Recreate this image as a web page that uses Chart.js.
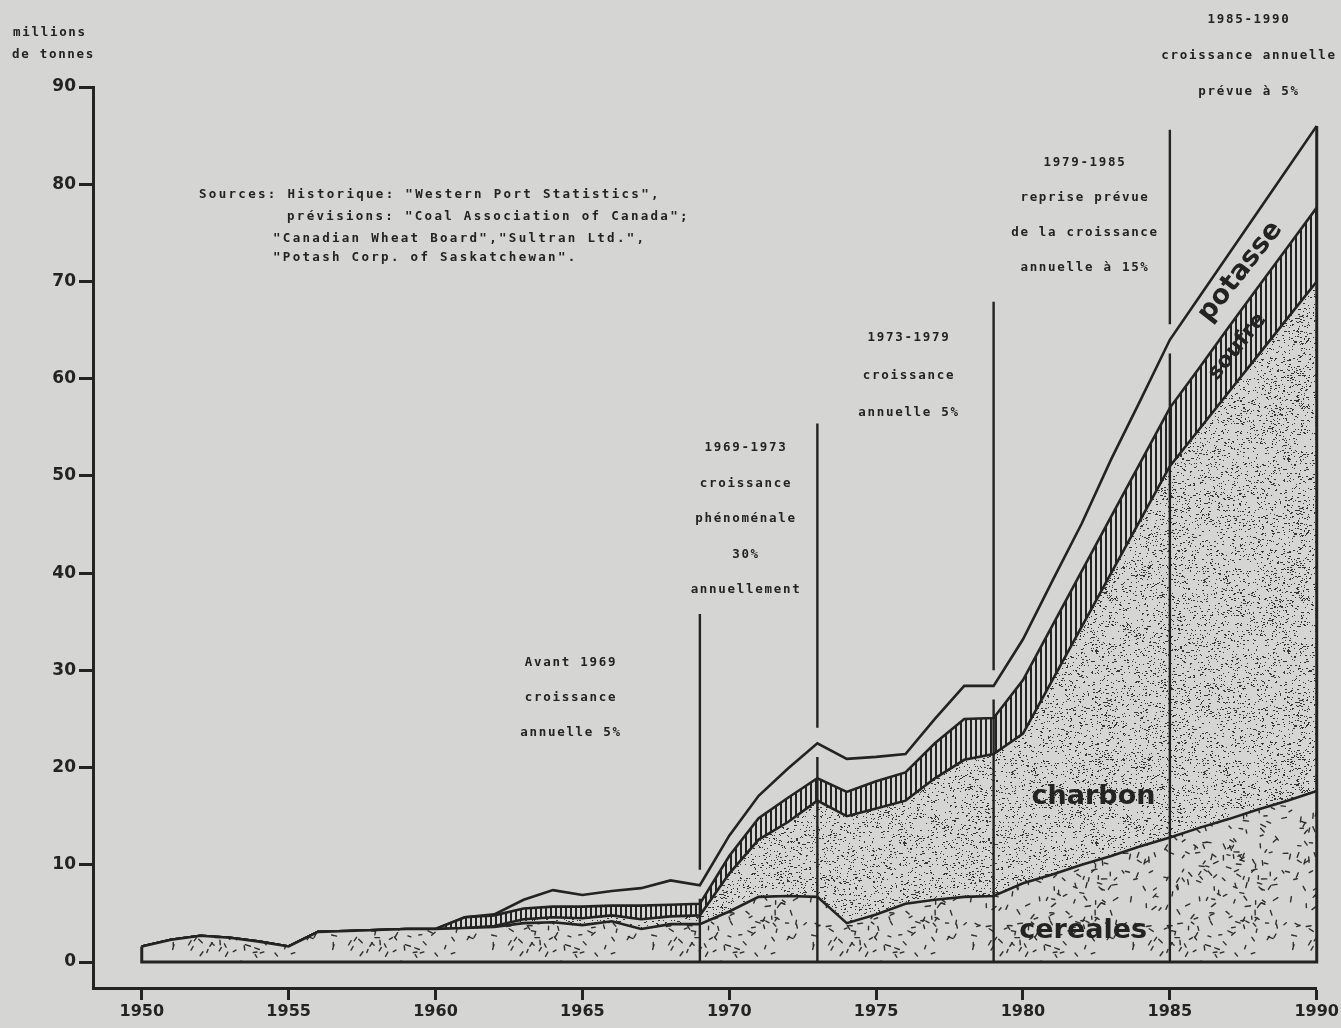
<!DOCTYPE html>
<html>
<head>
<meta charset="utf-8">
<script src="https://cdn.jsdelivr.net/npm/chart.js@4.4.1/dist/chart.umd.min.js"></script>
<style>
  html, body { margin: 0; padding: 0; background: #d5d5d3; }
</style>
</head>
<body>
<canvas id="trafic" width="1341" height="1028"></canvas>
<script>
// trafic du port, millions de tonnes
const years = [1950, 1951, 1952, 1953, 1954, 1955, 1956, 1957, 1958, 1959,
               1960, 1961, 1962, 1963, 1964, 1965, 1966, 1967, 1968, 1969,
               1970, 1971, 1972, 1973, 1974, 1975, 1976, 1977, 1978, 1979,
               1980, 1981, 1982, 1983, 1984, 1985, 1986, 1987, 1988, 1989, 1990];

const cereales = [1.6, 2.3, 2.7, 2.5, 2.1, 1.6, 3.1, 3.2, 3.3, 3.4,
                  3.4, 3.5, 3.6, 4.0, 4.1, 3.8, 4.2, 3.4, 3.9, 3.9,
                  5.2, 6.7, 6.8, 6.7, 4.0, 4.9, 6.0, 6.4, 6.7, 6.8,
                  8.1, 9.0, 10.0, 10.9, 11.9, 12.8, 13.8, 14.7, 15.7, 16.6, 17.6];

const charbon = [0, 0, 0, 0, 0, 0, 0, 0, 0, 0,
                 0, 0, 0.1, 0.4, 0.5, 0.7, 0.6, 1.0, 0.8, 0.9,
                 3.9, 5.9, 7.6, 9.9, 11.0, 10.9, 10.6, 12.5, 14.1, 14.6,
                 15.4, 20.0, 24.5, 29.1, 33.6, 38.2, 41.0, 43.9, 46.7, 49.6, 52.4];

const soufre = [0, 0, 0, 0, 0, 0, 0, 0, 0, 0,
                0, 1.1, 1.1, 1.1, 1.1, 1.2, 1.0, 1.4, 1.2, 1.2,
                1.8, 2.2, 2.5, 2.3, 2.5, 2.8, 2.9, 3.6, 4.2, 3.7,
                5.5, 5.6, 5.7, 5.8, 5.9, 6.0, 6.3, 6.7, 7.0, 7.3, 7.6];

const potasse = [0, 0, 0, 0, 0, 0, 0, 0, 0, 0,
                 0, 0, 0.1, 0.9, 1.7, 1.2, 1.5, 1.8, 2.5, 1.9,
                 2.1, 2.3, 3.0, 3.6, 3.4, 2.5, 1.9, 2.5, 3.4, 3.3,
                 4.2, 4.6, 4.9, 5.9, 6.4, 7.0, 7.3, 7.5, 7.8, 8.1, 8.4];

const xTicks = [1950, 1955, 1960, 1965, 1970, 1975, 1980, 1985, 1990];
const yTicks = [0, 10, 20, 30, 40, 50, 60, 70, 80, 90];

// périodes de croissance : année du trait vertical et hauteur où il commence
const periodYears = [1969, 1973, 1979, 1985];
const periodTops = [35.8, 55.4, 67.9, 85.6];

const INK = '#232323';
const PAPER = '#d5d5d3';
const TYPE = 'bold 12.5px "DejaVu Sans Mono", monospace';

function rng(seed) {
  let s = seed;
  return () => (s = (s * 16807) % 2147483647) / 2147483647;
}

function tile(w, h, paint) {
  const c = document.createElement('canvas');
  c.width = w; c.height = h;
  const g = c.getContext('2d');
  g.fillStyle = PAPER;
  g.fillRect(0, 0, w, h);
  paint(g);
  return g.createPattern(c, 'repeat');
}

// petits tirets pour les céréales
const patCereales = tile(160, 160, g => {
  const r = rng(11);
  g.strokeStyle = '#2f2f2f'; g.lineWidth = 1.4; g.lineCap = 'round';
  for (let i = 0; i < 250; i++) {
    const x = 3 + r() * 154, y = 3 + r() * 154, a = r() * Math.PI, l = 3 + r() * 2.5;
    g.beginPath();
    g.moveTo(x - Math.cos(a) * l / 2, y - Math.sin(a) * l / 2);
    g.lineTo(x + Math.cos(a) * l / 2, y + Math.sin(a) * l / 2);
    g.stroke();
  }
});

// pointillé pour le charbon
const patCharbon = tile(192, 192, g => {
  const r = rng(29);
  g.fillStyle = '#363636';
  for (let i = 0; i < 3000; i++) {
    g.fillRect(Math.floor(r() * 192), Math.floor(r() * 192), r() < 0.3 ? 2 : 1, 1);
  }
});

// hachures verticales pour le soufre
const patSoufre = tile(5, 5, g => {
  g.fillStyle = INK;
  g.fillRect(0, 0, 2, 5);
});

const pts = arr => years.map((yr, i) => ({ x: yr, y: arr[i] }));

const layer = (label, arr, fill, bg) => ({
  label: label,
  data: pts(arr),
  fill: fill,
  backgroundColor: bg,
  borderColor: INK,
  borderWidth: 2.6,
  pointRadius: 0,
  tension: 0
});

function total(i) {
  return cereales[i] + charbon[i] + soufre[i] + potasse[i];
}

const decor = {
  id: 'decor',
  afterDatasetsDraw(chart) {
    const ctx = chart.ctx;
    const xs = chart.scales.x, ys = chart.scales.y;
    const y0 = ys.getPixelForValue(0);
    const last = years.length - 1;

    ctx.save();
    ctx.strokeStyle = INK;
    ctx.lineCap = 'butt';

    // base et bords de la surface
    ctx.lineWidth = 3;
    ctx.beginPath();
    ctx.moveTo(xs.getPixelForValue(years[0]), ys.getPixelForValue(total(0)));
    ctx.lineTo(xs.getPixelForValue(years[0]), y0);
    ctx.lineTo(xs.getPixelForValue(years[last]), y0);
    ctx.lineTo(xs.getPixelForValue(years[last]), ys.getPixelForValue(total(last)));
    ctx.stroke();

    // traits des périodes
    ctx.lineWidth = 2.4;
    periodYears.forEach((yr, k) => {
      const px = xs.getPixelForValue(yr);
      const t = total(years.indexOf(yr));
      ctx.beginPath();
      ctx.moveTo(px, ys.getPixelForValue(periodTops[k]));
      ctx.lineTo(px, ys.getPixelForValue(t + 1.6));
      ctx.moveTo(px, ys.getPixelForValue(t - 1.4));
      ctx.lineTo(px, y0);
      ctx.stroke();
    });

    // noms des produits
    ctx.fillStyle = INK;
    ctx.textAlign = 'center';
    ctx.textBaseline = 'middle';
    const tag = (txt, yr, v, size, rot) => {
      ctx.save();
      ctx.translate(xs.getPixelForValue(yr), ys.getPixelForValue(v));
      ctx.rotate(rot * Math.PI / 180);
      ctx.font = 'bold ' + size + 'px "DejaVu Sans", sans-serif';
      ctx.fillText(txt, 0, 0);
      ctx.restore();
    };
    tag('charbon', 1982.4, 17.0, 27, 0);
    tag('cereales', 1982.05, 3.2, 27, 0);
    tag('potasse', 1987.4, 71.0, 27, -52);
    tag('soufre', 1987.3, 63.3, 22, -51);

    // notes
    ctx.font = TYPE;
    ctx.letterSpacing = '1.7px';
    const notes = [
      { lines: ['Avant 1969', 'croissance', 'annuelle 5%'], x: 571, y: 663, gap: 35 },
      { lines: ['1969-1973', 'croissance', 'phénoménale', '30%', 'annuellement'], x: 746, y: 448, gap: 35.5 },
      { lines: ['1973-1979', 'croissance', 'annuelle 5%'], x: 909, y: 338, gap: 37.5 },
      { lines: ['1979-1985', 'reprise prévue', 'de la croissance', 'annuelle à 15%'], x: 1085, y: 163, gap: 35 },
      { lines: ['1985-1990', 'croissance annuelle', 'prévue à 5%'], x: 1249, y: 20, gap: 36 }
    ];
    notes.forEach(n => n.lines.forEach((l, i) => ctx.fillText(l, n.x, n.y + i * n.gap)));

    ctx.textAlign = 'left';
    ctx.letterSpacing = '2.3px';
    ctx.fillText('Sources: Historique: "Western Port Statistics",', 199, 195);
    ctx.fillText('prévisions: "Coal Association of Canada";', 287, 217);
    ctx.fillText('"Canadian Wheat Board","Sultran Ltd.",', 273, 239);
    ctx.fillText('"Potash Corp. of Saskatchewan".', 273, 258);

    ctx.letterSpacing = '1.7px';
    ctx.fillText('millions', 13, 33);
    ctx.fillText('de tonnes', 12, 55);
    ctx.restore();
  }
};

new Chart(document.getElementById('trafic'), {
  type: 'line',
  data: {
    datasets: [
      layer('céréales', cereales, 'origin', patCereales),
      layer('charbon', charbon, '-1', patCharbon),
      layer('soufre', soufre, '-1', patSoufre),
      layer('potasse', potasse, false, 'transparent')
    ]
  },
  options: {
    responsive: false,
    animation: false,
    devicePixelRatio: 1,
    layout: { padding: { left: 0, right: 21, top: 87, bottom: 0 } },
    plugins: {
      legend: { display: false },
      tooltip: { enabled: false }
    },
    scales: {
      x: {
        type: 'linear',
        min: 1948.34,
        max: 1990,
        afterBuildTicks: s => { s.ticks = xTicks.map(v => ({ value: v })); },
        afterFit: s => { s.height = 40; },
        ticks: {
          color: INK,
          padding: 2,
          font: { family: '"DejaVu Sans", sans-serif', size: 16, weight: 'bold' },
          callback: v => String(v)
        },
        grid: { drawOnChartArea: false, tickLength: 12, tickWidth: 3, tickColor: INK },
        border: { color: INK, width: 3 }
      },
      y: {
        stacked: true,
        min: -2.67,
        max: 90,
        afterBuildTicks: s => { s.ticks = yTicks.map(v => ({ value: v })); },
        afterFit: s => { s.width = 93; },
        ticks: {
          color: INK,
          padding: 3,
          font: { family: '"DejaVu Sans", sans-serif', size: 17, weight: 'bold' },
          callback: v => String(v)
        },
        grid: { drawOnChartArea: false, tickLength: 14, tickWidth: 3, tickColor: INK },
        border: { color: INK, width: 3 }
      }
    }
  },
  plugins: [decor]
});
</script>
</body>
</html>
